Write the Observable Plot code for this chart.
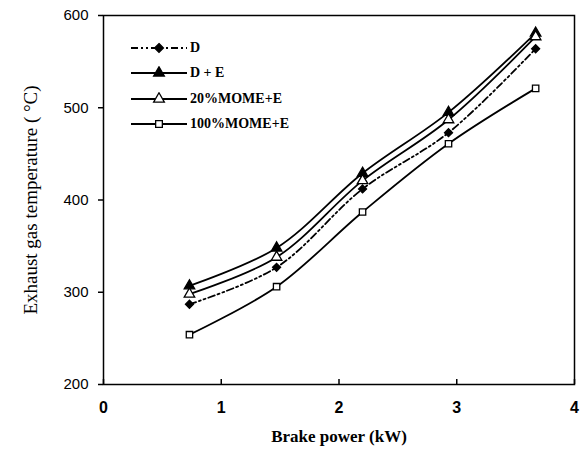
<!DOCTYPE html>
<html>
<head>
<meta charset="utf-8">
<script src="https://cdn.jsdelivr.net/npm/d3@7"></script>
<script src="https://cdn.jsdelivr.net/npm/@observablehq/plot@0.6"></script>
<style>
  body { margin: 0; background: #fff; }
  #wrap { position: relative; width: 583px; height: 466px; }
  #legend { position: absolute; left: 131px; top: 35px; font-family: "Liberation Serif", "Times New Roman", serif; font-weight: bold; font-size: 14px; color: black; }
  #legend .row { display: flex; align-items: center; height: 25.5px; }
  #legend svg { display: block; margin-right: 3px; }
</style>
</head>
<body>
<div id="wrap"><div id="legend"></div></div>
<script>
const power = [0.73, 1.47, 2.2, 2.93, 3.67];
const seriesNames = ["D", "D + E", "20%MOME+E", "100%MOME+E"];
const tempD = [287, 327, 412, 473, 564];
const tempDE = [307, 348, 429, 495, 581];
const temp20 = [298, 338, 421, 487, 577];
const temp100 = [254, 306, 387, 461, 521];
const xTicks = [0, 1, 2, 3, 4];
const yTicks = [200, 300, 400, 500, 600];

const styles = {
  "D": {dash: "7,3,2,3,2,3", symbol: "diamond2", fill: "black"},
  "D + E": {dash: null, symbol: "triangle", fill: "black"},
  "20%MOME+E": {dash: null, symbol: "triangle", fill: "white"},
  "100%MOME+E": {dash: null, symbol: "square", fill: "white"}
};
const values = [tempD, tempDE, temp20, temp100];
const data = seriesNames.flatMap((s, i) => power.map((p, j) => ({series: s, power: p, temp: values[i][j]})));

const marks = [Plot.frame({stroke: "black", strokeWidth: 1.5})];
for (const s of seriesNames) {
  const d = data.filter(r => r.series === s);
  const st = styles[s];
  marks.push(Plot.line(d, {x: "power", y: "temp", stroke: "black", strokeWidth: 1.8, strokeDasharray: st.dash, curve: "catmull-rom"}));
}
for (const s of seriesNames) {
  const d = data.filter(r => r.series === s);
  const st = styles[s];
  marks.push(Plot.dot(d, {x: "power", y: "temp", symbol: () => st.symbol, r: st.symbol === "square" ? 3.6 : st.symbol === "diamond2" ? 3.6 : 3.9, fill: st.fill, stroke: "black", strokeWidth: 1.3}));
}
marks.push(
  Plot.axisY({ticks: yTicks, tickSize: 5, tickPadding: 10, label: null, fontSize: 15, fill: "black", fontFamily: "Liberation Sans, Arial, sans-serif", stroke: "black", strokeWidth: 1.5}),
  Plot.axisY({ticks: [], label: "Exhaust gas temperature ( \u00B0C)", labelAnchor: "center", labelArrow: "none", labelOffset: 80, fontSize: 19, fill: "black", fontFamily: "Liberation Serif, Times New Roman, serif"}),
  Plot.axisX({ticks: xTicks, tickFormat: d => String(d), tickSize: -5, tickPadding: 22, label: null, fontSize: 16, fontWeight: "bold", fill: "black", fontFamily: "Liberation Sans, Arial, sans-serif", stroke: "black", strokeWidth: 1.5}),
  Plot.axisX({ticks: [], label: "Brake power (kW)", labelAnchor: "center", labelArrow: "none", labelOffset: 57, fontSize: 17, fontWeight: "bold", fill: "black", fontFamily: "Liberation Serif, Times New Roman, serif"})
);

const chart = Plot.plot({
  width: 583,
  height: 466,
  marginLeft: 103,
  marginRight: 9,
  marginTop: 15,
  marginBottom: 82,
  x: {domain: [0, 4]},
  y: {domain: [200, 600]},
  style: {background: "white", color: "black", overflow: "visible"},
  marks
});
document.getElementById("wrap").prepend(chart);

const legend = d3.select("#legend");
for (const s of seriesNames) {
  const st = styles[s];
  const row = legend.append("div").attr("class", "row");
  const svg = row.append("svg").attr("width", 56).attr("height", 14);
  svg.append("line").attr("x1", 0).attr("x2", 56).attr("y1", 7).attr("y2", 7)
    .attr("stroke", "black").attr("stroke-width", 1.8).attr("stroke-dasharray", st.dash);
  const sym = st.symbol === "diamond2" ? d3.symbolDiamond2 : st.symbol === "triangle" ? d3.symbolTriangle : d3.symbolSquare;
  const size = st.symbol === "square" ? 45 : 50;
  svg.append("path").attr("d", d3.symbol(sym, size)()).attr("transform", "translate(28,7)")
    .attr("fill", st.fill).attr("stroke", "black").attr("stroke-width", 1.3);
  row.append("span").text(s);
}
</script>
</body>
</html>
